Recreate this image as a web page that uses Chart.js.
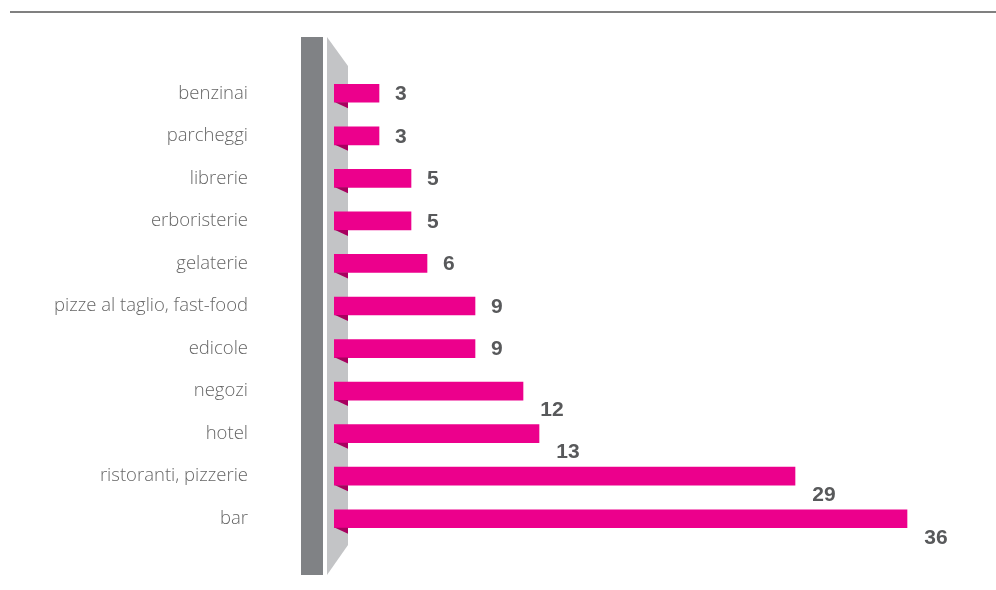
<!DOCTYPE html>
<html>
<head>
<meta charset="utf-8">
<script src="https://cdn.jsdelivr.net/npm/chart.js@4.4.1/dist/chart.umd.min.js"></script>
<style>
  html, body { margin: 0; padding: 0; background: #fff; }
  #wrap { width: 996px; height: 590px; }
</style>
</head>
<body>
<div id="wrap"><canvas id="canvas" width="996" height="590"></canvas></div>
<script>
const categories = ['benzinai', 'parcheggi', 'librerie', 'erboristerie', 'gelaterie',
  'pizze al taglio, fast-food', 'edicole', 'negozi', 'hotel', 'ristoranti, pizzerie', 'bar']
const values = [3, 3, 5, 5, 6, 9, 9, 12, 13, 29, 36]

const pink = '#ec008c'
const textGray = '#58595b'

// gray stand, folds and top rule
const decor = {
  id: 'decor',
  beforeDatasetsDraw(chart) {
    const ctx = chart.ctx
    ctx.save()
    ctx.fillStyle = '#808080'
    ctx.fillRect(10, 11, 986, 2)

    ctx.fillStyle = '#808285'
    ctx.fillRect(301, 37, 22, 538)

    ctx.fillStyle = '#c3c4c6'
    ctx.beginPath()
    ctx.moveTo(327, 37)
    ctx.lineTo(348, 66)
    ctx.lineTo(348, 545)
    ctx.lineTo(327, 575)
    ctx.closePath()
    ctx.fill()
    ctx.restore()
  },
  afterDatasetsDraw(chart) {
    const ctx = chart.ctx
    const meta = chart.getDatasetMeta(0)
    ctx.save()
    meta.data.forEach((bar, i) => {
      const bottom = bar.y + bar.height / 2
      ctx.fillStyle = '#a8005f'
      ctx.beginPath()
      ctx.moveTo(335, bottom)
      ctx.lineTo(348, bottom)
      ctx.lineTo(348, bottom + 6)
      ctx.closePath()
      ctx.fill()

      ctx.fillStyle = textGray
      ctx.font = 'bold 21px "Liberation Sans", Arial, sans-serif'
      ctx.textBaseline = 'middle'
      const v = values[i]
      if (v >= 10) {
        ctx.textAlign = 'center'
        ctx.fillText(String(v), bar.x + 29, bar.y + 19)
      } else {
        ctx.textAlign = 'left'
        ctx.fillText(String(v), bar.x + 16, bar.y + 1)
      }
    })
    ctx.restore()
  }
}

const data = {
  labels: categories,
  datasets: [
    {
      data: values,
      backgroundColor: pink,
      borderWidth: 0,
      barThickness: 18,
    },
  ],
}

const config = {
  type: 'bar',
  data: data,
  options: {
    indexAxis: 'y',
    responsive: false,
    animation: false,
    layout: { padding: { top: 72, bottom: 50, right: 25, left: 0 } },
    plugins: { legend: { display: false }, tooltip: { enabled: false } },
    scales: {
      x: { display: false, min: 0.1875, max: 40 },
      y: {
        border: { display: false },
        grid: { display: false, drawTicks: false },
        ticks: {
          padding: 86,
          color: '#666666',
          font: { family: '"Open Sans", sans-serif', size: 18.5, weight: 300 },
        },
        afterFit(scale) {
          scale.width = 334
          scale.paddingTop = 0
          scale.paddingBottom = 0
        },
      },
    },
  },
  plugins: [decor],
}

const canvas = document.getElementById('canvas')
const chart = new Chart(canvas, config)
</script>
</body>
</html>
